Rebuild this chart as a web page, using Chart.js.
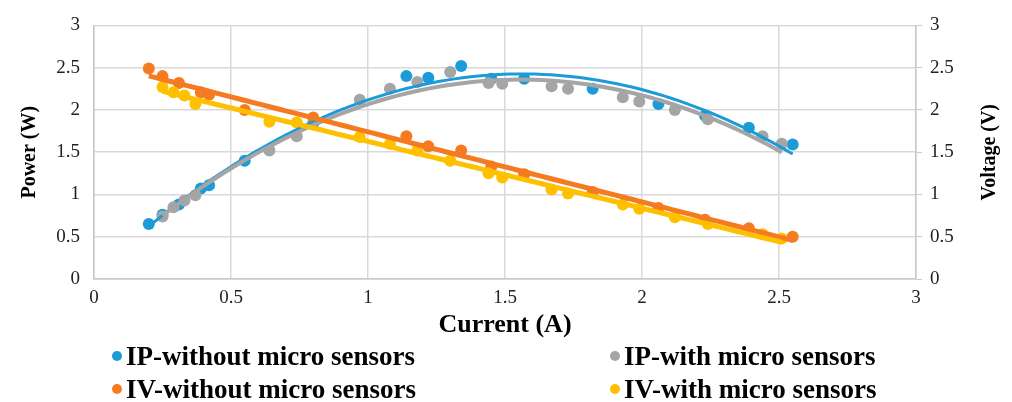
<!DOCTYPE html>
<html>
<head>
<meta charset="utf-8">
<script src="https://cdn.jsdelivr.net/npm/chart.js@4.4.1/dist/chart.umd.min.js"></script>
<style>
  html, body { margin: 0; padding: 0; background: #fff; }
  #wrap { position: relative; width: 1012px; height: 402px; }
  #legend { position: absolute; left: 0; top: 0; width: 1012px; height: 402px; pointer-events: none;
            font: bold 27px "Liberation Serif", "Times New Roman", serif; color: #000; }
  .item { position: absolute; height: 30px; line-height: 30px; display: flex; align-items: center; white-space: nowrap; }
  .dot { width: 10px; height: 10px; border-radius: 50%; margin-right: 4px; }
</style>
</head>
<body>
<div id="wrap">
  <canvas id="chart" width="1012" height="402"></canvas>
  <div id="legend"></div>
</div>
<script>
// measured points, without / with micro sensors
const currentWithout = [0.20, 0.25, 0.31, 0.39, 0.42, 0.55, 0.80, 1.14, 1.22, 1.34, 1.45, 1.57, 1.82, 2.06, 2.23, 2.39, 2.55];
const powerWithout   = [0.65, 0.76, 0.88, 1.07, 1.11, 1.40, 1.84, 2.40, 2.38, 2.52, 2.37, 2.37, 2.25, 2.07, 1.93, 1.79, 1.59];
const voltageWithout = [2.49, 2.40, 2.32, 2.21, 2.18, 2.00, 1.91, 1.69, 1.57, 1.52, 1.33, 1.24, 1.03, 0.84, 0.70, 0.60, 0.50];

const currentWith = [0.25, 0.29, 0.33, 0.37, 0.64, 0.74, 0.97, 1.08, 1.18, 1.30, 1.44, 1.49, 1.67, 1.73, 1.93, 1.99, 2.12, 2.24, 2.44, 2.51];
const powerWith   = [0.74, 0.85, 0.93, 0.99, 1.52, 1.69, 2.12, 2.25, 2.33, 2.45, 2.32, 2.31, 2.28, 2.25, 2.15, 2.10, 2.00, 1.89, 1.69, 1.60];
const voltageWith = [2.27, 2.21, 2.17, 2.07, 1.86, 1.85, 1.68, 1.60, 1.52, 1.40, 1.25, 1.20, 1.06, 1.01, 0.88, 0.83, 0.73, 0.65, 0.53, 0.48];

const seriesNames = ['IP-without micro sensors', 'IP-with micro sensors', 'IV-without micro sensors', 'IV-with micro sensors'];
const seriesColors = ['#1b9bd8', '#a5a5a5', '#f47b20', '#ffc000'];
const axisTicks = [0, 0.5, 1, 1.5, 2, 2.5, 3];

// least squares polynomial fit, coefficients from low to high power
function polyFit(xs, ys, degree) {
  const n = degree + 1;
  const A = Array.from({ length: n }, () => new Array(n + 1).fill(0));
  for (let k = 0; k < xs.length; k++) {
    for (let i = 0; i < n; i++) {
      for (let j = 0; j < n; j++) A[i][j] += Math.pow(xs[k], i + j);
      A[i][n] += ys[k] * Math.pow(xs[k], i);
    }
  }
  for (let i = 0; i < n; i++) {
    for (let r = 0; r < n; r++) {
      if (r === i) continue;
      const f = A[r][i] / A[i][i];
      for (let c = i; c <= n; c++) A[r][c] -= f * A[i][c];
    }
  }
  return A.map((row, i) => row[n] / row[i]);
}

function trend(xs, ys, degree) {
  const coef = polyFit(xs, ys, degree);
  const lo = Math.min(...xs), hi = Math.max(...xs);
  const pts = [];
  for (let i = 0; i <= 80; i++) {
    const x = lo + (hi - lo) * i / 80;
    pts.push({ x: x, y: coef.reduce((s, c, p) => s + c * Math.pow(x, p), 0) });
  }
  return pts;
}

const toPoints = (xs, ys) => xs.map((x, i) => ({ x: x, y: ys[i] }));

const series = [
  { xs: currentWithout, ys: powerWithout,   axis: 'y',  deg: 2, width: 3 },
  { xs: currentWith,    ys: powerWith,      axis: 'y',  deg: 2, width: 4 },
  { xs: currentWithout, ys: voltageWithout, axis: 'y1', deg: 1, width: 5 },
  { xs: currentWith,    ys: voltageWith,    axis: 'y1', deg: 1, width: 5 }
];

const datasets = [];
series.forEach((s, i) => {
  datasets.push({
    label: seriesNames[i],
    data: toPoints(s.xs, s.ys),
    yAxisID: s.axis,
    backgroundColor: seriesColors[i],
    borderColor: seriesColors[i],
    pointRadius: 6,
    pointBorderWidth: 0,
    showLine: false,
    order: 10 + (3 - i)
  });
  datasets.push({
    label: seriesNames[i] + ' trend',
    data: trend(s.xs, s.ys, s.deg),
    yAxisID: s.axis,
    borderColor: seriesColors[i],
    borderWidth: s.width,
    pointRadius: 0,
    showLine: true,
    fill: false,
    order: 3 - i
  });
});

const serif = '"Liberation Serif", "Times New Roman", serif';
const tickFont = { family: serif, size: 19 };
const titleFont = { family: serif, size: 20, weight: 'bold' };
const gridColor = '#d9d9d9';
const plainLabel = v => String(v);

// secondary axis title, rotated the same way as the primary one
const rightTitle = {
  id: 'rightTitle',
  afterDraw(chart) {
    const ctx = chart.ctx;
    const area = chart.chartArea;
    ctx.save();
    ctx.translate(990, (area.top + area.bottom) / 2);
    ctx.rotate(-Math.PI / 2);
    ctx.font = 'bold 20px ' + serif;
    ctx.fillStyle = '#000';
    ctx.textAlign = 'center';
    ctx.textBaseline = 'middle';
    ctx.fillText('Voltage (V)', 0, 0);
    ctx.restore();
  }
};

new Chart(document.getElementById('chart'), {
  type: 'scatter',
  data: { datasets: datasets },
  options: {
    responsive: false,
    animation: false,
    layout: { padding: { top: 18, bottom: 61, left: 0, right: 0 } },
    plugins: { legend: { display: false }, tooltip: { enabled: false } },
    scales: {
      x: {
        type: 'linear', min: 0, max: 3,
        afterBuildTicks: s => { s.ticks = axisTicks.map(v => ({ value: v })); },
        afterFit: s => { s.height = 62; },
        grid: { color: gridColor, lineWidth: 1.5, drawTicks: false },
        border: { color: '#c8c8c8', width: 1.5 },
        ticks: { font: tickFont, color: '#222', padding: 8, callback: plainLabel },
        title: { display: true, text: 'Current (A)', color: '#000', padding: 0,
                 font: { family: serif, size: 26, weight: 'bold' } }
      },
      y: {
        position: 'left', min: 0, max: 3,
        afterBuildTicks: s => { s.ticks = axisTicks.map(v => ({ value: v })); },
        afterFit: s => { s.width = 94; },
        grid: { color: gridColor, lineWidth: 1.5, drawTicks: false },
        border: { color: '#c8c8c8', width: 1.5 },
        ticks: { font: tickFont, color: '#222', padding: 14, callback: plainLabel },
        title: { display: true, text: 'Power (W)', color: '#000', font: titleFont, padding: { top: 18 } }
      },
      y1: {
        position: 'right', min: 0, max: 3,
        afterBuildTicks: s => { s.ticks = axisTicks.map(v => ({ value: v })); },
        afterFit: s => { s.width = 96; },
        grid: { drawOnChartArea: false, color: '#c8c8c8', tickLength: 6 },
        border: { color: '#c8c8c8', width: 1.5 },
        ticks: { font: tickFont, color: '#222', padding: 8, callback: plainLabel }
      }
    }
  },
  plugins: [rightTitle]
});

// legend laid out in two columns under the axis title
const legendBox = document.getElementById('legend');
const legendCols = [112, 610];
const legendRows = [341, 374];
seriesNames.forEach((name, i) => {
  const item = document.createElement('div');
  item.className = 'item';
  item.style.left = legendCols[i % 2] + 'px';
  item.style.top = legendRows[Math.floor(i / 2)] + 'px';
  const dot = document.createElement('span');
  dot.className = 'dot';
  dot.style.background = seriesColors[i];
  const text = document.createElement('span');
  text.textContent = name;
  item.appendChild(dot);
  item.appendChild(text);
  legendBox.appendChild(item);
});
</script>
</body>
</html>
